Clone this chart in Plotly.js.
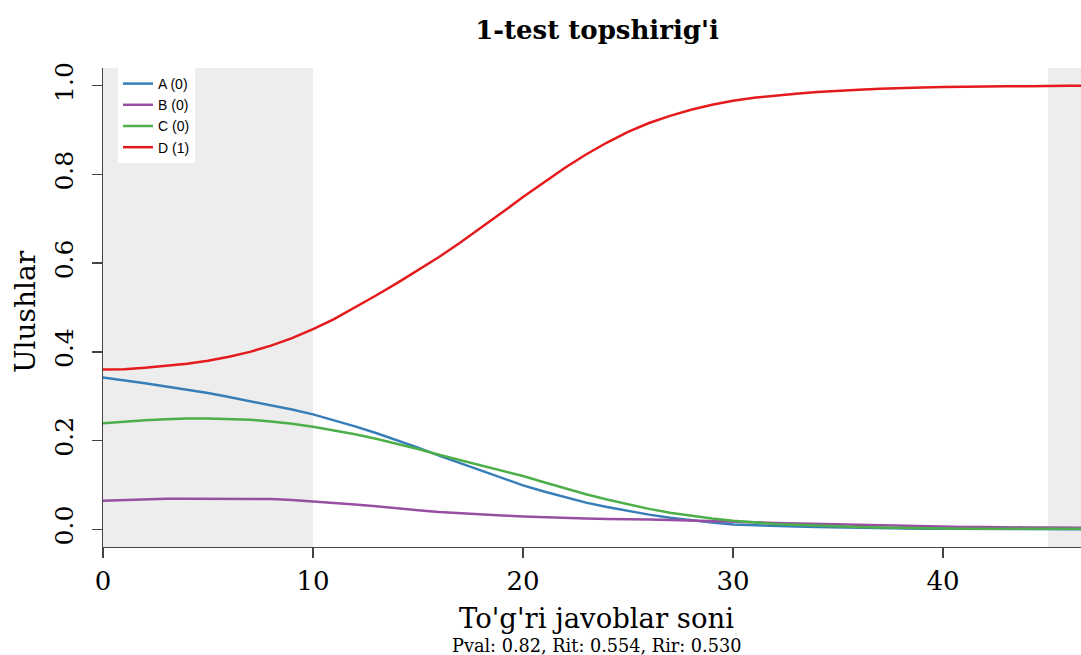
<!DOCTYPE html>
<html>
<head>
<meta charset="utf-8">
<script src="https://cdn.plot.ly/plotly-3.0.1.min.js"></script>
<style>html,body{margin:0;padding:0;background:#fff;}#chart{width:1081px;height:655px;}</style>
</head>
<body>
<div id="chart"></div>
<script>
// Total score (number of correct answers)
const scores = [0,1,2,3,4,5,6,7,8,9,10,11,12,13,14,15,16,17,18,19,20,21,22,23,24,25,26,27,28,29,30,31,32,33,34,35,36,37,38,39,40,41,42,43,44,45,46,47];

// Option proportions
const optionA = [0.342,0.336,0.329,0.322,0.315,0.307,0.298,0.289,0.280,0.270,0.259,0.246,0.232,0.217,0.201,0.184,0.166,0.149,0.132,0.115,0.099,0.085,0.072,0.060,0.050,0.041,0.033,0.026,0.020,0.015,0.011,0.009,0.007,0.006,0.005,0.004,0.003,0.002,0.001,0.001,0.001,0.001,0.000,0.000,0.000,0.000,0.000,0.000];
const optionB = [0.064,0.066,0.068,0.069,0.069,0.069,0.069,0.069,0.068,0.066,0.063,0.060,0.056,0.052,0.047,0.043,0.039,0.036,0.033,0.031,0.029,0.027,0.025,0.024,0.023,0.023,0.022,0.021,0.020,0.019,0.018,0.016,0.014,0.013,0.011,0.010,0.009,0.008,0.007,0.006,0.006,0.005,0.005,0.004,0.004,0.004,0.004,0.003];
const optionC = [0.239,0.243,0.246,0.248,0.250,0.250,0.249,0.247,0.243,0.238,0.231,0.223,0.214,0.204,0.193,0.181,0.168,0.156,0.144,0.132,0.120,0.106,0.092,0.079,0.067,0.056,0.046,0.037,0.030,0.024,0.019,0.015,0.012,0.010,0.008,0.006,0.005,0.004,0.003,0.002,0.002,0.001,0.001,0.001,0.001,0.001,0.001,0.001];
const optionD = [0.360,0.361,0.364,0.368,0.373,0.380,0.389,0.400,0.414,0.431,0.451,0.474,0.500,0.527,0.555,0.584,0.614,0.646,0.679,0.714,0.749,0.783,0.815,0.845,0.872,0.896,0.916,0.932,0.946,0.957,0.966,0.973,0.978,0.982,0.986,0.989,0.991,0.993,0.995,0.996,0.997,0.998,0.998,0.999,0.999,1.000,1.000,1.000];

const seriesNames = ["A (0)", "B (0)", "C (0)", "D (1)"];
const seriesColors = ["#377EB8", "#984EA3", "#4DAF4A", "#E41A1C"];
const seriesValues = [optionA, optionB, optionC, optionD];

// Shaded score bands
const bandStarts = [0, 45];
const bandEnds = [10, 47];

const xTicks = [0, 10, 20, 30, 40];
const yTicks = [0.0, 0.2, 0.4, 0.6, 0.8, 1.0];
const yTickText = ["0.0", "0.2", "0.4", "0.6", "0.8", "1.0"];

const titleText = "1-test topshirig'i";
const xTitle = "To'g'ri javoblar soni";
const yTitle = "Ulushlar";
const subText = "Pval: 0.82, Rit: 0.554, Rir: 0.530";

const serif = "DejaVu Serif, Liberation Serif, serif";

const traces = seriesValues.map((vals, i) => ({
  x: scores, y: vals, type: "scatter", mode: "lines",
  name: seriesNames[i],
  line: {color: seriesColors[i], width: 2.5, shape: "linear"},
  hoverinfo: "skip"
}));

const shapes = bandStarts.map((s, i) => ({
  type: "rect", xref: "x", yref: "paper", x0: s, x1: bandEnds[i], y0: 0, y1: 1,
  fillcolor: "#EDEDED", line: {width: 0}, layer: "below"
}));

const layout = {
  width: 1081, height: 655,
  margin: {l: 103, r: 0, t: 68, b: 108},
  paper_bgcolor: "#ffffff", plot_bgcolor: "#ffffff",
  showlegend: true,
  title: {text: "<b>" + titleText + "</b>", font: {family: serif, size: 26, color: "#000"},
          xref: "container", x: 597/1081, xanchor: "center", yref: "container", y: 1 - 30/655, yanchor: "middle"},
  xaxis: {range: [0, 46.57], tickvals: xTicks, ticks: "outside", ticklen: 10, tickwidth: 1.3, tickcolor: "#444",
          showline: true, linecolor: "#444", linewidth: 1.3, showgrid: false, zeroline: false,
          tickfont: {family: serif, size: 26, color: "#000"}, fixedrange: true},
  yaxis: {range: [-0.04, 1.04], tickvals: yTicks, ticktext: yTickText, ticks: "outside", ticklen: 10, tickwidth: 1.3, tickcolor: "#444",
          showline: true, linecolor: "#444", linewidth: 1.3, showgrid: false, zeroline: false, tickangle: -90,
          ticklabelstandoff: 9,
          tickfont: {family: serif, size: 25, color: "#000"}, fixedrange: true},
  legend: {x: (118-103)/978, y: 1, xanchor: "left", yanchor: "top", bgcolor: "#ffffff", borderwidth: 0,
           font: {family: "Liberation Sans, Arial, sans-serif", size: 14, color: "#000"}, itemwidth: 30, tracegroupgap: 0},
  shapes: shapes,
  annotations: [
    {text: xTitle, xref: "paper", yref: "paper", x: (596-103)/978, y: (547-618)/479, xanchor: "center", yanchor: "middle",
     showarrow: false, font: {family: serif, size: 27.5, color: "#000"}},
    {text: subText, xref: "paper", yref: "paper", x: (597-103)/978, y: (547-646)/479, xanchor: "center", yanchor: "middle",
     showarrow: false, font: {family: serif, size: 17.7, color: "#000"}},
    {text: yTitle, xref: "paper", yref: "paper", x: (25-103)/978, y: (547-312)/479, xanchor: "center", yanchor: "middle",
     textangle: -90, showarrow: false, font: {family: serif, size: 28, color: "#000"}}
  ]
};

Plotly.newPlot("chart", traces, layout, {displayModeBar: false, staticPlot: true});
</script>
</body>
</html>
